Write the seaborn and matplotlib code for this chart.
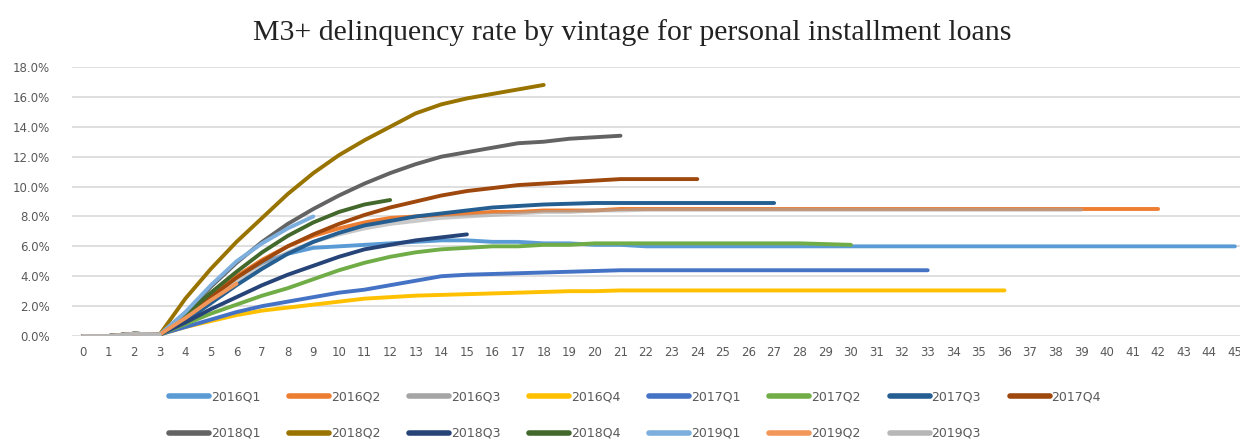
import pandas as pd
import seaborn as sns
import matplotlib.pyplot as plt
from matplotlib.ticker import FuncFormatter

# M3+ delinquency rate (%) by months on book, one list per vintage
vintages = ['2016Q1', '2016Q2', '2016Q3', '2016Q4', '2017Q1', '2017Q2', '2017Q3', '2017Q4',
            '2018Q1', '2018Q2', '2018Q3', '2018Q4', '2019Q1', '2019Q2', '2019Q3']

v2016q1 = [0, 0, 0.15, 0.1, 1.3, 2.8, 4.0, 4.9, 5.5, 5.9,
           6.0, 6.1, 6.2, 6.3, 6.4, 6.4, 6.3, 6.3, 6.2, 6.2,
           6.1, 6.1, 6.0, 6.0, 6.0, 6.0, 6.0, 6.0, 6.0, 6.0,
           6.0, 6.0, 6.0, 6.0, 6.0, 6.0, 6.0, 6.0, 6.0, 6.0,
           6.0, 6.0, 6.0, 6.0, 6.0, 6.0]
v2016q2 = [0, 0, 0.15, 0.1, 1.3, 2.8, 4.0, 5.1, 6.0, 6.7,
           7.2, 7.6, 7.9, 8.0, 8.1, 8.2, 8.3, 8.3, 8.4, 8.4,
           8.4, 8.5, 8.5, 8.5, 8.5, 8.5, 8.5, 8.5, 8.5, 8.5,
           8.5, 8.5, 8.5, 8.5, 8.5, 8.5, 8.5, 8.5, 8.5, 8.5,
           8.5, 8.5, 8.5]
v2016q3 = [0, 0, 0.15, 0.1, 1.2, 2.5, 3.7, 4.7, 5.6, 6.3,
           6.8, 7.2, 7.5, 7.7, 7.9, 8.0, 8.1, 8.2, 8.3, 8.3,
           8.4, 8.4, 8.45, 8.45, 8.45, 8.45, 8.45, 8.45, 8.45, 8.45,
           8.45, 8.45, 8.45, 8.45, 8.45, 8.45, 8.45, 8.45, 8.45, 8.45]
v2016q4 = [0, 0, 0.15, 0.1, 0.6, 1.0, 1.4, 1.7, 1.9, 2.1,
           2.3, 2.5, 2.6, 2.7, 2.75, 2.8, 2.85, 2.9, 2.95, 3.0,
           3.0, 3.05, 3.05, 3.05, 3.05, 3.05, 3.05, 3.05, 3.05, 3.05,
           3.05, 3.05, 3.05, 3.05, 3.05, 3.05, 3.05]
v2017q1 = [0, 0, 0.15, 0.1, 0.6, 1.1, 1.6, 2.0, 2.3, 2.6,
           2.9, 3.1, 3.4, 3.7, 4.0, 4.1, 4.15, 4.2, 4.25, 4.3,
           4.35, 4.4, 4.4, 4.4, 4.4, 4.4, 4.4, 4.4, 4.4, 4.4,
           4.4, 4.4, 4.4, 4.4]
v2017q2 = [0, 0, 0.15, 0.1, 0.8, 1.5, 2.1, 2.7, 3.2, 3.8,
           4.4, 4.9, 5.3, 5.6, 5.8, 5.9, 6.0, 6.0, 6.1, 6.1,
           6.2, 6.2, 6.2, 6.2, 6.2, 6.2, 6.2, 6.2, 6.2, 6.15,
           6.1]
v2017q3 = [0, 0, 0.15, 0.1, 1.0, 2.2, 3.4, 4.5, 5.5, 6.3,
           6.9, 7.4, 7.7, 8.0, 8.2, 8.4, 8.6, 8.7, 8.8, 8.85,
           8.9, 8.9, 8.9, 8.9, 8.9, 8.9, 8.9, 8.9]
v2017q4 = [0, 0, 0.15, 0.1, 1.2, 2.6, 3.9, 5.0, 6.0, 6.8,
           7.5, 8.1, 8.6, 9.0, 9.4, 9.7, 9.9, 10.1, 10.2, 10.3,
           10.4, 10.5, 10.5, 10.5, 10.5]
v2018q1 = [0, 0, 0.15, 0.1, 1.5, 3.3, 4.9, 6.3, 7.5, 8.5,
           9.4, 10.2, 10.9, 11.5, 12.0, 12.3, 12.6, 12.9, 13.0, 13.2,
           13.3, 13.4]
v2018q2 = [0, 0, 0.15, 0.1, 2.5, 4.5, 6.3, 7.9, 9.5, 10.9,
           12.1, 13.1, 14.0, 14.9, 15.5, 15.9, 16.2, 16.5, 16.8]
v2018q3 = [0, 0, 0.15, 0.1, 0.9, 1.8, 2.6, 3.4, 4.1, 4.7,
           5.3, 5.8, 6.1, 6.4, 6.6, 6.8]
v2018q4 = [0, 0, 0.15, 0.1, 1.4, 2.9, 4.3, 5.6, 6.7, 7.6,
           8.3, 8.8, 9.1]
v2019q1 = [0, 0, 0.15, 0.1, 1.6, 3.4, 5.0, 6.2, 7.2, 8.0]
v2019q2 = [0, 0, 0.15, 0.1, 1.2, 2.4, 3.5]
v2019q3 = [0, 0, 0.15, 0.1]

series = [v2016q1, v2016q2, v2016q3, v2016q4, v2017q1, v2017q2, v2017q3, v2017q4,
          v2018q1, v2018q2, v2018q3, v2018q4, v2019q1, v2019q2, v2019q3]
x_ticks = list(range(0, 46))

# excel office palette
colors = ['#5B9BD5', '#ED7D31', '#A5A5A5', '#FFC000', '#4472C4', '#70AD47', '#255E91', '#9E480E',
          '#636363', '#997300', '#264478', '#43682B', '#7CAFDD', '#F1975A', '#B7B7B7']

rows = []
for name, vals in zip(vintages, series):
    for m, v in enumerate(vals):
        rows.append({'mob': m, 'rate': v / 100, 'vintage': name})
df = pd.DataFrame(rows)

sns.set_style('white')
fig = plt.figure(figsize=(12.4, 4.42), dpi=100)
ax = fig.add_axes([0.058, 0.2398, 0.942, 0.6086])

sns.lineplot(data=df, x='mob', y='rate', hue='vintage', hue_order=vintages,
             palette=dict(zip(vintages, colors)), linewidth=2.8, ax=ax,
             solid_capstyle='round')
# gray 2016Q3 sits on top of orange 2016Q2, blended in the original
ax.lines[2].set_alpha(0.6)

ax.set_xlim(-0.43, 45.2)
ax.set_ylim(0, 0.18)
ax.set_xticks(x_ticks)
ax.set_yticks([i / 100 for i in range(0, 19, 2)])
ax.yaxis.set_major_formatter(FuncFormatter(lambda v, p: f'{v * 100:.1f}%'))
ax.grid(axis='y', color='#DCDCDC', linewidth=1.3)
ax.set_axisbelow(True)
for s in ax.spines.values():
    s.set_visible(False)
ax.tick_params(axis='both', length=0, labelsize=8.5, labelcolor='#595959')
ax.tick_params(axis='y', pad=16)
ax.tick_params(axis='x', pad=7)
ax.set_xlabel('')
ax.set_ylabel('')

fig.suptitle('M3+ delinquency rate by vintage for personal installment loans',
             x=0.51, y=0.958, fontsize=21.5, family='Liberation Serif', color='#222222')

# legend in two rows, row-major like excel
handles, labels = ax.get_legend_handles_labels()
ax.get_legend().remove()
order = [0, 8, 1, 9, 2, 10, 3, 11, 4, 12, 5, 13, 6, 14, 7]
fig.legend([handles[i] for i in order], [labels[i] for i in order],
           loc='center', bbox_to_anchor=(0.512, 0.061), ncol=8, frameon=False,
           fontsize=9, labelcolor='#595959', handlelength=3.2, handletextpad=0.15,
           columnspacing=2.3, labelspacing=1.9)
for h in fig.legends[0].get_lines():
    h.set_linewidth(4)

fig.savefig('out.png', dpi=100)
